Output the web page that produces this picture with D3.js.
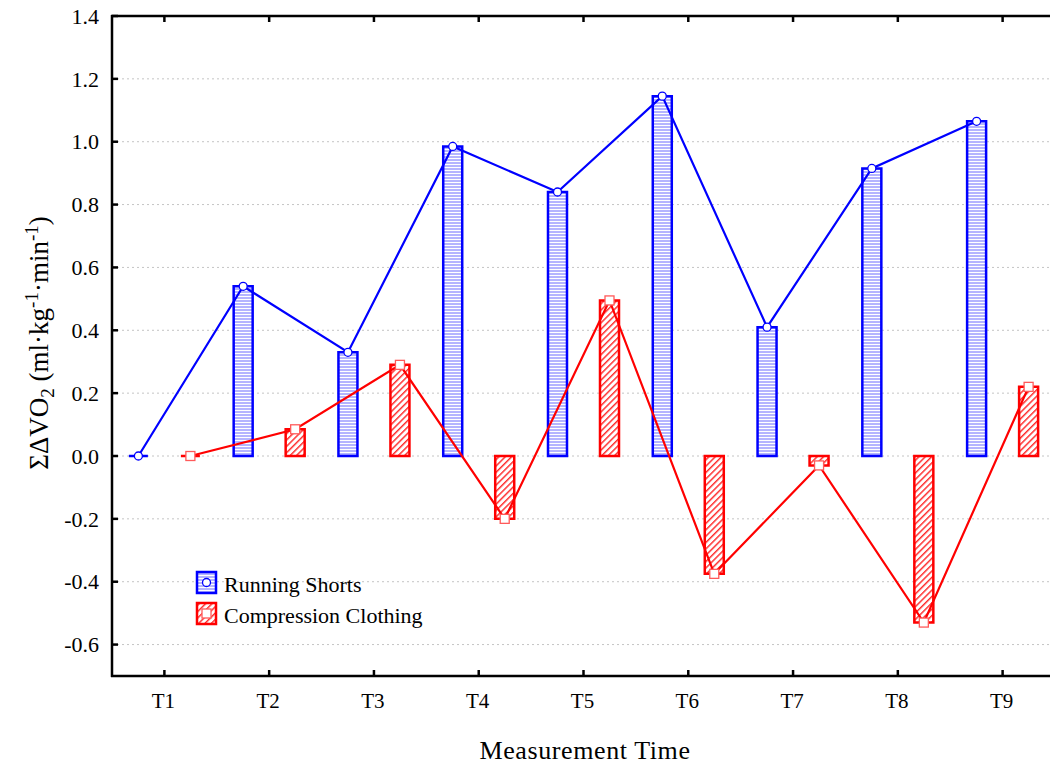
<!DOCTYPE html>
<html lang="en">
<head>
<meta charset="utf-8">
<script src="https://d3js.org/d3.v7.min.js"></script>
<style>
  body { margin: 0; background: #fff; }
  text { font-family: "Liberation Serif", "Times New Roman", serif; fill: #000; }
</style>
</head>
<body>
<script>
var categories = ["T1", "T2", "T3", "T4", "T5", "T6", "T7", "T8", "T9"];
var runningShorts = [0, 0.54, 0.33, 0.985, 0.84, 1.145, 0.41, 0.915, 1.065];
var compressionClothing = [0, 0.085, 0.29, -0.2, 0.495, -0.375, -0.03, -0.53, 0.22];
var yTicks = [-0.6, -0.4, -0.2, 0.0, 0.2, 0.4, 0.6, 0.8, 1.0, 1.2, 1.4];
var seriesNames = ["Running Shorts", "Compression Clothing"];

var width = 1050,
    height = 765,
    plotLeft = 112, plotTop = 16, plotBottom = 676;

var svg = d3.select("body").append("svg")
    .attr("width", width)
    .attr("height", height);

var defs = svg.append("defs");

// blue: thin horizontal lines
var pBlue = defs.append("pattern")
    .attr("id", "hatchBlue")
    .attr("patternUnits", "userSpaceOnUse")
    .attr("width", 6).attr("height", 3);
pBlue.append("rect").attr("width", 6).attr("height", 3).attr("fill", "#fff");
pBlue.append("line")
    .attr("x1", 0).attr("x2", 6).attr("y1", 1).attr("y2", 1)
    .attr("stroke", "#6a6aff").attr("stroke-width", 1);

// red: diagonal lines
var pRed = defs.append("pattern")
    .attr("id", "hatchRed")
    .attr("patternUnits", "userSpaceOnUse")
    .attr("width", 4.5).attr("height", 4.5)
    .attr("patternTransform", "rotate(45)");
pRed.append("rect").attr("width", 4.5).attr("height", 4.5).attr("fill", "#fff");
pRed.append("line")
    .attr("x1", 0.75).attr("x2", 0.75).attr("y1", 0).attr("y2", 4.5)
    .attr("stroke", "#ff1010").attr("stroke-width", 1.3);

var x = d3.scaleBand()
    .domain(categories)
    .range([plotLeft, 1055]);

var xSub = d3.scalePoint()
    .domain(seriesNames)
    .range([x.bandwidth() / 2 - 26, x.bandwidth() / 2 + 26]);

var y = d3.scaleLinear()
    .domain([-0.7, 1.4])
    .range([plotBottom, plotTop]);

var barW = 19;

// grid
svg.append("g").selectAll("line")
    .data(yTicks.filter(function (d) { return d < 1.4; }))
    .enter().append("line")
    .attr("x1", plotLeft).attr("x2", width)
    .attr("y1", function (d) { return y(d); })
    .attr("y2", function (d) { return y(d); })
    .attr("stroke", "#c4c4c4")
    .attr("stroke-width", 1)
    .attr("stroke-dasharray", "2,3");

var series = [
  { name: seriesNames[0], values: runningShorts, color: "#0000ff", fill: "url(#hatchBlue)", marker: "circle", mstroke: "#0000ff" },
  { name: seriesNames[1], values: compressionClothing, color: "#ff0000", fill: "url(#hatchRed)", marker: "square", mstroke: "#ff5a5a" }
];

function cx(s, i) {
  return x(categories[i]) + xSub(s.name);
}

function barPath(s, v, i) {
  var c = cx(s, i);
  var y0 = y(0), y1 = y(v);
  return "M" + (c - barW / 2) + "," + y0 + "H" + (c + barW / 2) + "V" + y1 + "H" + (c - barW / 2) + "Z";
}

// bars
series.forEach(function (s) {
  svg.append("g").selectAll("path")
      .data(s.values)
      .enter().append("path")
      .attr("d", function (d, i) { return barPath(s, d, i); })
      .attr("fill", s.fill)
      .attr("stroke", s.color)
      .attr("stroke-width", 2.5);
});

// lines
series.forEach(function (s) {
  var line = d3.line()
      .x(function (d, i) { return cx(s, i); })
      .y(function (d) { return y(d); });
  svg.append("path")
      .datum(s.values)
      .attr("d", line)
      .attr("fill", "none")
      .attr("stroke", s.color)
      .attr("stroke-width", 2.2);
});

function drawMarker(g, s, px, py) {
  if (s.marker === "circle") {
    g.append("circle")
        .attr("cx", px).attr("cy", py).attr("r", 4)
        .attr("fill", "#fff")
        .attr("stroke", s.mstroke)
        .attr("stroke-width", 1.3);
  } else {
    g.append("rect")
        .attr("x", px - 4.5).attr("y", py - 4.5)
        .attr("width", 9).attr("height", 9)
        .attr("fill", "#fff")
        .attr("stroke", s.mstroke)
        .attr("stroke-width", 1.3);
  }
}

// markers
series.forEach(function (s) {
  var g = svg.append("g");
  s.values.forEach(function (v, i) {
    drawMarker(g, s, cx(s, i), y(v));
  });
});

// frame
var axisG = svg.append("g").attr("stroke", "#000").attr("stroke-width", 2.5);
axisG.append("line").attr("x1", plotLeft).attr("x2", plotLeft).attr("y1", plotTop - 1).attr("y2", plotBottom + 1);
axisG.append("line").attr("x1", plotLeft - 1).attr("x2", width).attr("y1", plotTop).attr("y2", plotTop);
axisG.append("line").attr("x1", plotLeft - 1).attr("x2", width).attr("y1", plotBottom).attr("y2", plotBottom);

// y ticks
axisG.selectAll(".yt")
    .data(yTicks)
    .enter().append("line")
    .attr("x1", plotLeft).attr("x2", plotLeft + 6)
    .attr("y1", function (d) { return y(d); })
    .attr("y2", function (d) { return y(d); });

svg.append("g").selectAll("text")
    .data(yTicks)
    .enter().append("text")
    .attr("x", 99)
    .attr("y", function (d) { return y(d); })
    .attr("dy", "0.35em")
    .attr("text-anchor", "end")
    .style("font-size", "22px")
    .text(function (d) { return d3.format(".1f")(d).replace("−", "-"); });

// x ticks (top and bottom)
axisG.selectAll(".xb")
    .data(categories)
    .enter().append("line")
    .attr("x1", function (d) { return x(d) + x.bandwidth() / 2; })
    .attr("x2", function (d) { return x(d) + x.bandwidth() / 2; })
    .attr("y1", plotBottom).attr("y2", plotBottom - 6);

axisG.selectAll(".xt")
    .data(categories)
    .enter().append("line")
    .attr("x1", function (d) { return x(d) + x.bandwidth() / 2; })
    .attr("x2", function (d) { return x(d) + x.bandwidth() / 2; })
    .attr("y1", plotTop).attr("y2", plotTop + 6);

svg.append("g").selectAll("text")
    .data(categories)
    .enter().append("text")
    .attr("x", function (d) { return x(d) + x.bandwidth() / 2 - 1; })
    .attr("y", 708)
    .attr("text-anchor", "middle")
    .style("font-size", "21px")
    .text(function (d) { return d; });

// axis titles
svg.append("text")
    .attr("x", 585).attr("y", 759)
    .attr("text-anchor", "middle")
    .style("font-size", "26px")
    .style("letter-spacing", "0.6px")
    .text("Measurement Time");

var yt = svg.append("text")
    .attr("transform", "translate(48,343) rotate(-90)")
    .attr("text-anchor", "middle")
    .style("font-size", "27px");
yt.append("tspan").text("ΣΔVO");
yt.append("tspan").attr("dy", 6).style("font-size", "19px").text("2");
yt.append("tspan").attr("dy", -6).text(" (ml·kg");
yt.append("tspan").attr("dy", -10).style("font-size", "19px").text("-1");
yt.append("tspan").attr("dy", 10).text("·min");
yt.append("tspan").attr("dy", -10).style("font-size", "19px").text("-1");
yt.append("tspan").attr("dy", 10).text(")");

// legend
var legend = svg.append("g");
series.forEach(function (s, i) {
  var ly = 572 + i * 31;
  legend.append("rect")
      .attr("x", 197).attr("y", ly)
      .attr("width", 19).attr("height", 21)
      .attr("fill", s.fill)
      .attr("stroke", s.color)
      .attr("stroke-width", 2.5);
  drawMarker(legend, s, 206.5, ly + 10.5);
  legend.append("text")
      .attr("x", 224).attr("y", ly + 20)
      .style("font-size", "22px")
      .text(s.name);
});
</script>
</body>
</html>
